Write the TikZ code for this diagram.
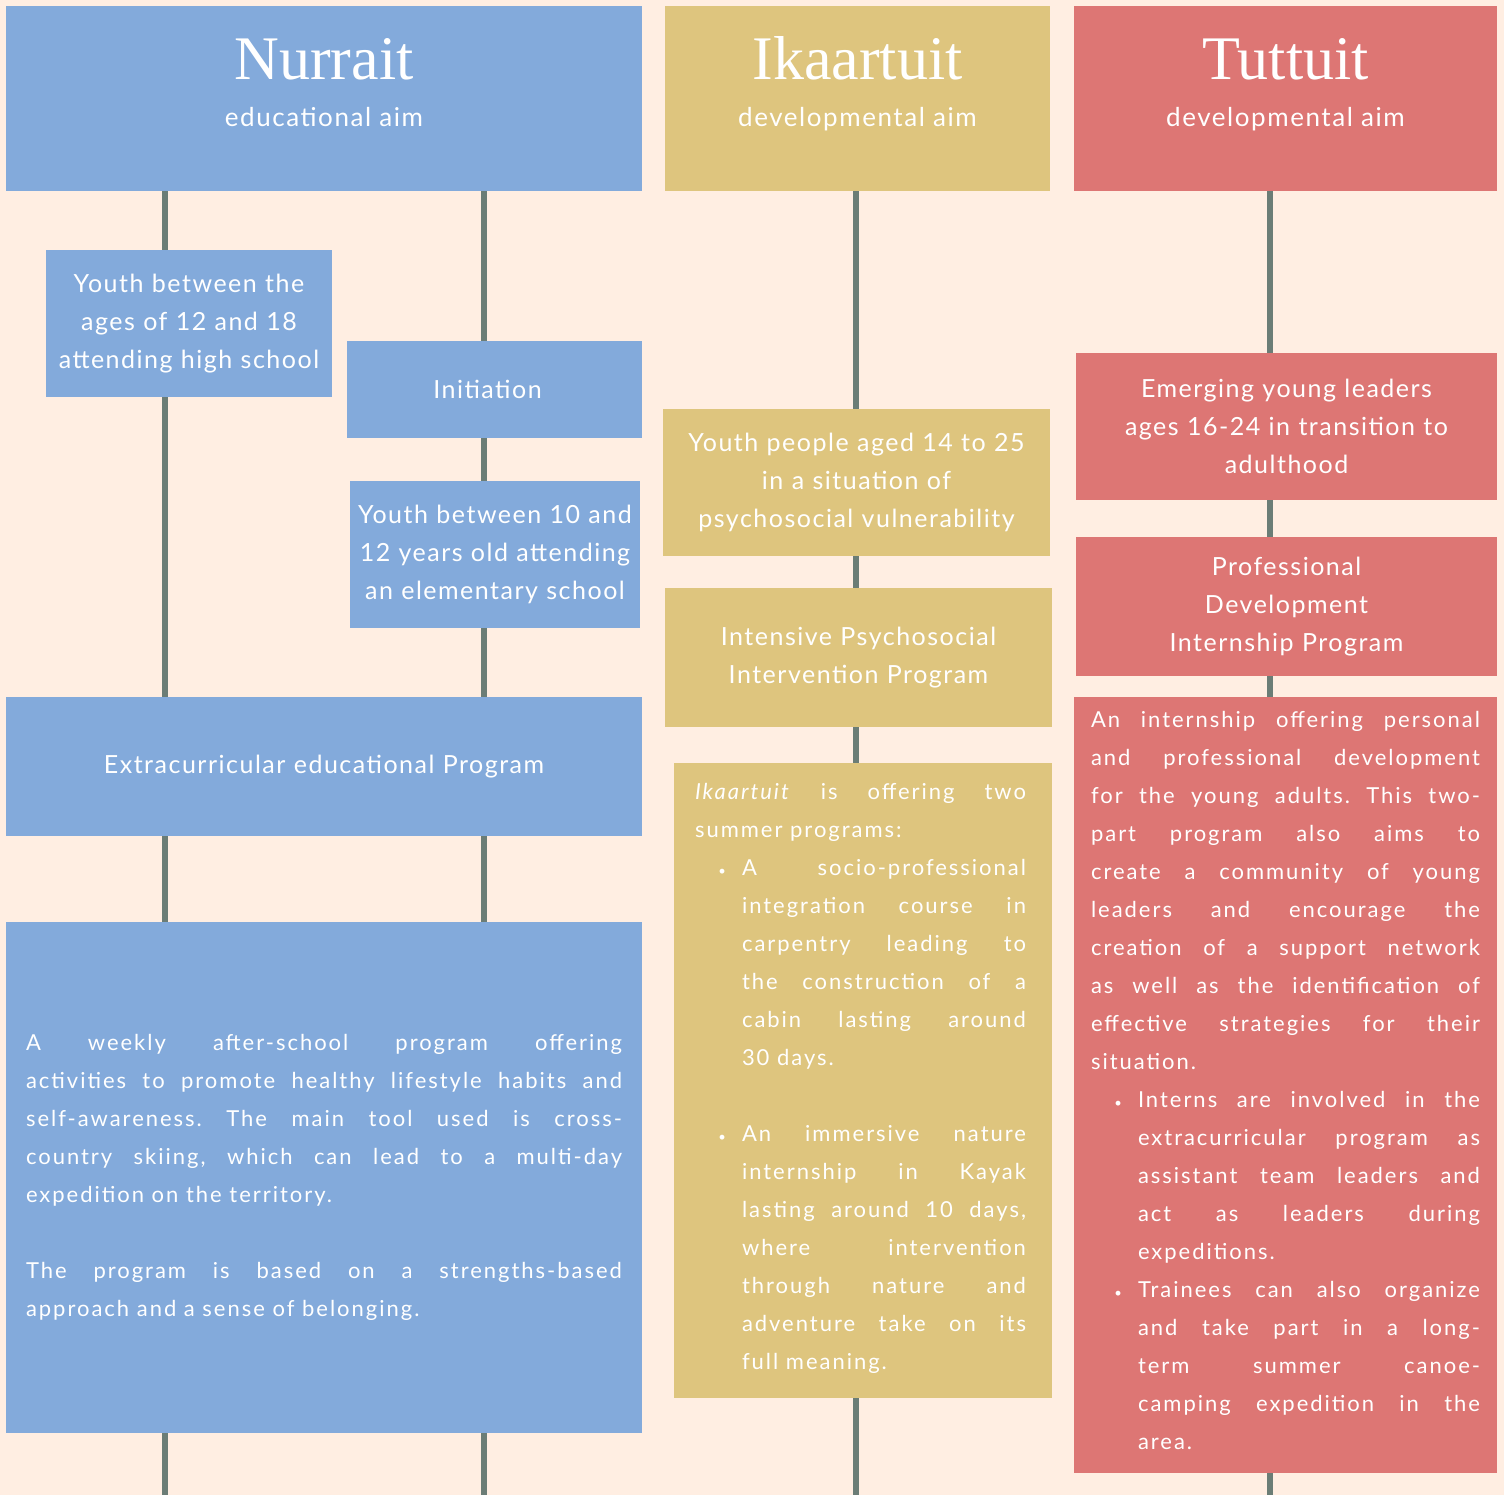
\documentclass[tikz,border=0pt]{standalone}
\usepackage{fontspec}
\setmainfont{Lato}
\newfontfamily\titlefont{Liberation Serif}
\newfontfamily\widefont[LetterSpace=6]{Lato}
\newfontfamily\parafont[LetterSpace=9]{Lato}
\usetikzlibrary{positioning,backgrounds}
\frenchspacing

\definecolor{paper}{HTML}{FFEEE2}
\definecolor{nurblue}{HTML}{83AADB}
\definecolor{ikayellow}{HTML}{DEC57E}
\definecolor{tutred}{HTML}{DD7674}
\definecolor{stem}{HTML}{6B7D76}

% bullet paragraph with hanging indent
\newcommand\bulletpar{\par\hangindent=47pt\hangafter=0\noindent\llap{{\fontsize{13}{13}\selectfont\textbullet}\hspace{16pt}}}

\begin{document}
\begin{tikzpicture}[x=1pt,y=-1pt,
  every node/.style={inner sep=0pt},
  box/.style={rectangle, text=white, align=center, font=\widefont\fontsize{25}{38}\selectfont},
  nur/.style={box, fill=nurblue},
  ika/.style={box, fill=ikayellow},
  tut/.style={box, fill=tutred},
  title/.style={text=white, font=\titlefont\fontsize{62}{62}\selectfont},
  aim/.style={text=white, font=\widefont\fontsize{26}{26}\selectfont},
  para/.style={align=justify, font=\parafont\fontsize{22}{38}\selectfont},
  stemline/.style={draw=stem, line width=6pt}]

\useasboundingbox (0,0) rectangle (1504,1495);

% column guides
\coordinate (colA) at (165,0);
\coordinate (colB) at (484,0);
\coordinate (colC) at (856,0);
\coordinate (colD) at (1270,0);
\coordinate (floor) at (0,1495);

% headers
\node[nur, minimum width=636pt, minimum height=185pt] (nurH) at (324,98.5) {};
\node[ika, minimum width=385pt, minimum height=185pt] (ikaH) at (857.5,98.5) {};
\node[tut, minimum width=423pt, minimum height=185pt] (tutH) at (1285.5,98.5) {};
\node[title, anchor=base] (nurT) at ([yshift=-74pt]nurH.north) {Nurrait};
\node[aim, anchor=base] (nurA) at ([yshift=-121pt]nurH.north) {educational aim};
\node[title, anchor=base] (ikaT) at ([yshift=-74pt]ikaH.north) {Ikaartuit};
\node[aim, anchor=base] (ikaA) at ([yshift=-121pt]ikaH.north) {developmental aim};
\node[title, anchor=base] (tutT) at ([yshift=-74pt]tutH.north) {Tuttuit};
\node[aim, anchor=base] (tutA) at ([yshift=-121pt]tutH.north) {developmental aim};

% Nurrait
\node[nur, minimum width=286pt, minimum height=147pt, text width=284pt] (high) at (189,323.5)
  {Youth between the\\ ages of 12 and 18\\ attending high school};
\node[nur, minimum width=295pt, minimum height=97pt, text width=290pt] (init) at (494.5,389.5)
  {Initiation\hspace*{14pt}};
\node[nur, minimum width=290pt, minimum height=147pt, text width=288pt] (elem) at (495,554.5)
  {Youth between 10 and\\ 12 years old attending\\ an elementary school};
\node[nur, minimum width=636pt, minimum height=139pt, text width=600pt] (extra) at (324,766.5)
  {Extracurricular educational Program};
\node[nur, minimum width=636pt, minimum height=511pt] (weekly) at (324,1177.5) {};
\node[para, text=white, text width=596pt] (weeklyT) at (weekly.center)
  {A weekly after-school program offering\linebreak
   activities to promote healthy lifestyle habits and\linebreak
   self-awareness. The main tool used is cross-\linebreak
   country skiing, which can lead to a multi-day\linebreak
   expedition on the territory.\par\vspace{38pt}
   The program is based on a strengths-based\linebreak
   approach and a sense of belonging.\par};

% Ikaartuit
\node[ika, minimum width=387pt, minimum height=147pt, text width=384pt] (vuln) at (856.5,482.5)
  {Youth people aged 14 to 25\\ in a situation of\\ psychosocial vulnerability};
\node[ika, minimum width=387pt, minimum height=139pt, text width=384pt] (ipip) at (858.5,657.5)
  {Intensive Psychosocial\\ Intervention Program};
\node[ika, minimum width=378pt, minimum height=635pt] (summer) at (863,1080.5) {};
\node[para, text=white, text width=331pt] (summerT) at (860.5,1078)
  {\textit{Ikaartuit} is offering two\linebreak
   summer programs:
   \bulletpar A socio-professional\linebreak
   integration course in\linebreak
   carpentry leading to\linebreak
   the construction of a\linebreak
   cabin lasting around\linebreak
   30 days.\par\vspace{38pt}
   \bulletpar An immersive nature\linebreak
   internship in Kayak\linebreak
   lasting around 10 days,\linebreak
   where intervention\linebreak
   through nature and\linebreak
   adventure take on its\linebreak
   full meaning.\par};

% Tuttuit
\node[tut, minimum width=421pt, minimum height=147pt, text width=416pt] (lead) at (1286.5,426.5)
  {Emerging young leaders\\ ages 16-24 in transition to\\ adulthood};
\node[tut, minimum width=421pt, minimum height=139pt, text width=416pt] (pdip) at (1286.5,606.5)
  {Professional\\ Development\\ Internship Program};
\node[tut, minimum width=423pt, minimum height=776pt] (intern) at (1285.5,1085) {};
\node[para, text=white, text width=389pt] (internT) at (1285.5,1080)
  {An internship offering personal\linebreak
   and professional development\linebreak
   for the young adults. This two-\linebreak
   part program also aims to\linebreak
   create a community of young\linebreak
   leaders and encourage the\linebreak
   creation of a support network\linebreak
   as well as the identification of\linebreak
   effective strategies for their\linebreak
   situation.
   \bulletpar Interns are involved in the\linebreak
   extracurricular program as\linebreak
   assistant team leaders and\linebreak
   act as leaders during\linebreak
   expeditions.
   \bulletpar Trainees can also organize\linebreak
   and take part in a long-\linebreak
   term summer canoe-\linebreak
   camping expedition in the\linebreak
   area.\par};

% paper and stems behind the boxes
\begin{scope}[on background layer]
\fill[paper] (0,0) rectangle (1504,1495);
\draw[stemline] (nurH.south -| colA) -- (high.north -| colA);
\draw[stemline] (high.south -| colA) -- (extra.north -| colA);
\draw[stemline] (extra.south -| colA) -- (weekly.north -| colA);
\draw[stemline] (weekly.south -| colA) -- (floor -| colA);
\draw[stemline] (nurH.south -| colB) -- (init.north -| colB);
\draw[stemline] (init.south -| colB) -- (elem.north -| colB);
\draw[stemline] (elem.south -| colB) -- (extra.north -| colB);
\draw[stemline] (extra.south -| colB) -- (weekly.north -| colB);
\draw[stemline] (weekly.south -| colB) -- (floor -| colB);
\draw[stemline] (ikaH.south -| colC) -- (vuln.north -| colC);
\draw[stemline] (vuln.south -| colC) -- (ipip.north -| colC);
\draw[stemline] (ipip.south -| colC) -- (summer.north -| colC);
\draw[stemline] (summer.south -| colC) -- (floor -| colC);
\draw[stemline] (tutH.south -| colD) -- (lead.north -| colD);
\draw[stemline] (lead.south -| colD) -- (pdip.north -| colD);
\draw[stemline] (pdip.south -| colD) -- (intern.north -| colD);
\draw[stemline] (intern.south -| colD) -- (floor -| colD);
\end{scope}
\end{tikzpicture}
\end{document}
